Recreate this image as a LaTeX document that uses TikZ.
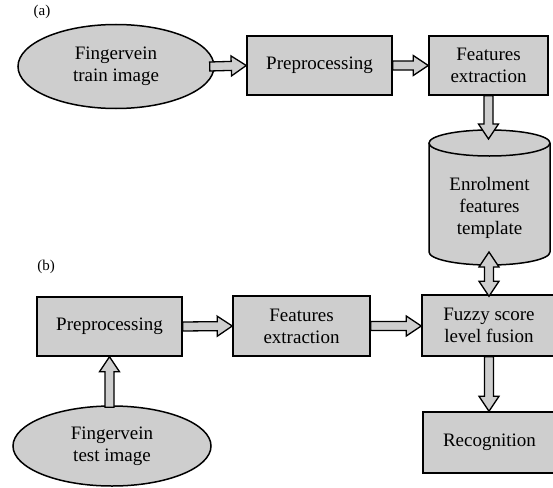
\documentclass[tikz,border=0pt]{standalone}
\usepackage{fontspec}
\setmainfont{Liberation Serif}
\usetikzlibrary{shapes.geometric,calc}
\definecolor{boxgray}{RGB}{206,206,206}
\tikzset{blk/.style={draw,fill=boxgray,line width=1.5pt,align=center,inner sep=0pt,font=\fontsize{19}{22}\selectfont},
  tag/.style={font=\fontsize{15}{17}\selectfont},
  fat/.style={draw,fill=boxgray,line width=1.3pt,line join=miter}}
\newcommand\fatarrow[2]{\path (#1) coordinate (fa) (#2) coordinate (fb) ($(fb)!15pt!(fa)$) coordinate (hb);
  \draw[fat] ($(fa)!4.5pt!90:(fb)$)--($(hb)!4.5pt!90:(fb)$)--($(hb)!10pt!90:(fb)$)--(fb)
    --($(hb)!10pt!-90:(fb)$)--($(hb)!4.5pt!-90:(fb)$)--($(fa)!4.5pt!-90:(fb)$)--cycle;}
\newcommand\fatdouble[2]{\path (#1) coordinate (fa) (#2) coordinate (fb) ($(fb)!15pt!(fa)$) coordinate (hb) ($(fa)!15pt!(fb)$) coordinate (ha);
  \draw[fat] (fa)--($(ha)!10pt!90:(fb)$)--($(ha)!4.5pt!90:(fb)$)--($(hb)!4.5pt!90:(fb)$)--($(hb)!10pt!90:(fb)$)--(fb)
    --($(hb)!10pt!-90:(fb)$)--($(hb)!4.5pt!-90:(fb)$)--($(ha)!4.5pt!-90:(fb)$)--($(ha)!10pt!-90:(fb)$)--cycle;}
\begin{document}
\begin{tikzpicture}[x=1pt,y=-1pt]
\useasboundingbox (0,0) rectangle (553,487);
\coordinate (cyltop) at (489.5,130);
\coordinate (cylbot) at (489.5,265);
\filldraw[fill=boxgray,line width=1.5pt] (429,143)--(429,252) arc[start angle=180,end angle=0,x radius=60.5,y radius=13]--(550,143);
\filldraw[fill=boxgray,line width=1.5pt] (489.5,143) ellipse[x radius=60.5,y radius=13];
\node[blk,ellipse,minimum width=196,minimum height=84] (trainimg) at (116,66.5) {Fingervein\\train image};
\node[blk,minimum width=145,minimum height=59] (prepA) at (319.5,65.5) {Preprocessing};
\node[blk,minimum width=119,minimum height=59] (featA) at (488.5,65.5) {Features\\extraction};
\node[align=center,inner sep=0pt,font=\fontsize{19}{22}\selectfont] (tmpl) at (489.5,208) {Enrolment\\features\\template};
\node[blk,minimum width=145,minimum height=59] (prepB) at (109.5,326.5) {Preprocessing};
\node[blk,minimum width=137,minimum height=60] (featB) at (301.5,326) {Features\\extraction};
\node[blk,minimum width=134,minimum height=61] (fuzzy) at (489,325.5) {Fuzzy score\\level fusion};
\node[blk,minimum width=133,minimum height=61] (recog) at (489.5,442.5) {Recognition};
\node[blk,ellipse,minimum width=198,minimum height=80] (testimg) at (112,446) {Fingervein\\test image};
\fatarrow{$(trainimg.east)+(-5,0)$}{prepA.west}
\fatarrow{prepA.east}{featA.west}
\fatarrow{featA.south}{$(featA.south|-cyltop)+(0,9)$}
\fatdouble{$(fuzzy.north|-cylbot)+(0,-13)$}{$(fuzzy.north)+(0,2)$}
\fatarrow{prepB.east}{featB.west}
\fatarrow{featB.east}{fuzzy.west|-featB.east}
\fatarrow{fuzzy.south}{fuzzy.south|-recog.north}
\fatarrow{$(prepB.south|-testimg.north)+(0,2)$}{prepB.south}
\node[tag] (labA) at (42,12) {(a)};
\node[tag] (labB) at (46,267) {(b)};
\end{tikzpicture}
\end{document}
